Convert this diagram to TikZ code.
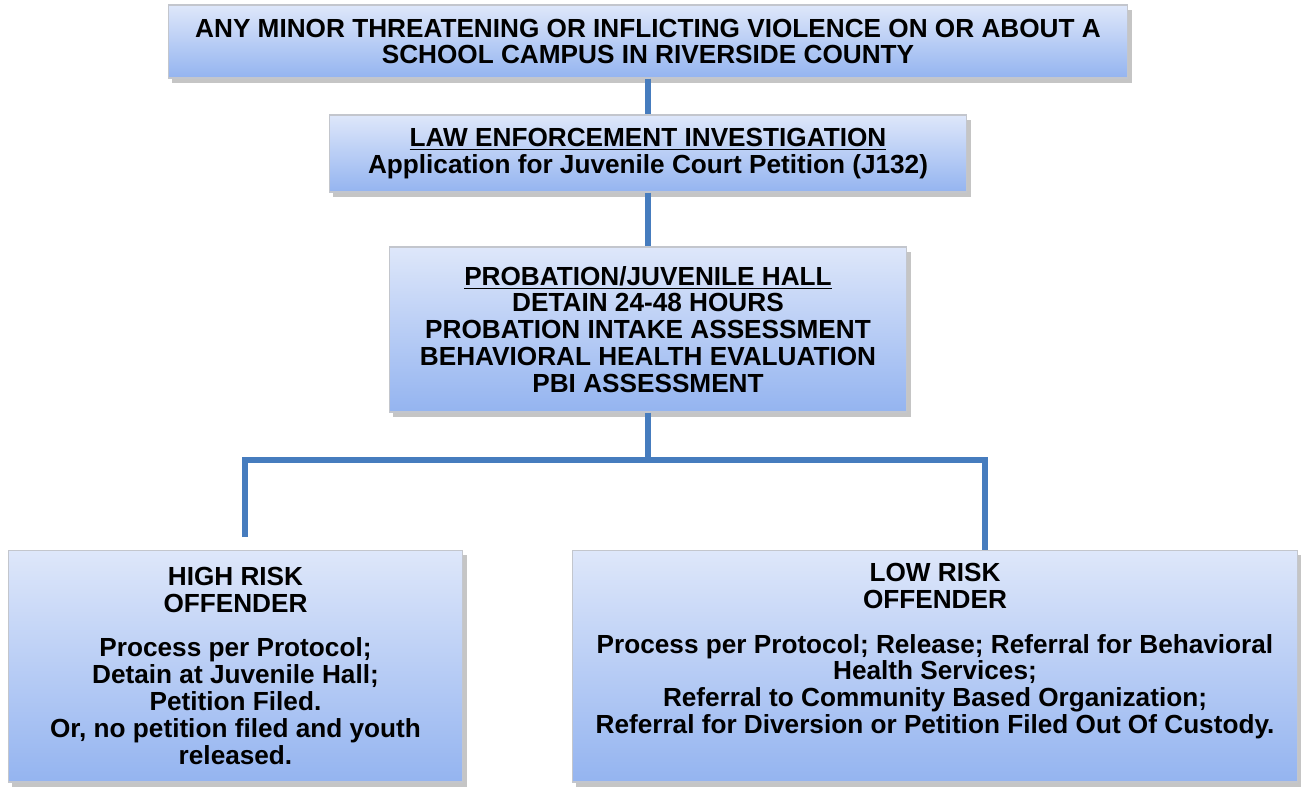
\documentclass[tikz,border=0pt]{standalone}
\usepackage{fontspec}
\setmainfont{Liberation Sans}
\usepackage{tikz}
\usetikzlibrary{shadows}
\definecolor{linkblue}{RGB}{70,124,190}
\definecolor{boxtop}{RGB}{222,231,250}
\definecolor{boxbot}{RGB}{148,180,240}
\definecolor{boxline}{RGB}{195,198,205}

\begin{document}
\begin{tikzpicture}[x=0.02cm,y=-0.02cm]
\tikzset{box/.style = {shape=rectangle,draw=boxline,line width=0.6pt,top color=boxtop,bottom color=boxbot,
  drop shadow={shadow xshift=2.5pt,shadow yshift=-3pt,fill=black!45},align=center,inner sep=0pt,
  font=\bfseries\fontsize{14.9}{15.3}\selectfont}}
\tikzset{link/.style = {-,draw=linkblue,line width=2.9pt}}
\useasboundingbox (0,0) rectangle (1301,787);
% boxes
\node[box,minimum width=19.2cm,minimum height=1.46cm] (top) at (648,41.5)
  {ANY MINOR THREATENING OR INFLICTING VIOLENCE ON OR ABOUT A\\SCHOOL CAMPUS IN RIVERSIDE COUNTY};
\node[box,minimum width=12.76cm,minimum height=1.54cm] (law) at (648,153.5)
  {\underline{LAW ENFORCEMENT INVESTIGATION}\\Application for Juvenile Court Petition (J132)};
\node[box,minimum width=10.36cm,minimum height=3.3cm] (prob) at (648,329.5)
  {\underline{PROBATION/JUVENILE HALL}\\DETAIN 24-48 HOURS\\PROBATION INTAKE ASSESSMENT\\
   BEHAVIORAL HEALTH EVALUATION\\PBI ASSESSMENT};
\node[box,minimum width=9.1cm,minimum height=4.64cm] (high) at (235.5,666)
  {HIGH RISK\\OFFENDER\\[10pt]Process per Protocol;\\Detain at Juvenile Hall;\\Petition Filed.\\
   Or, no petition filed and youth\\released.};
\node[box,minimum width=14.52cm,minimum height=4.64cm] (low) at (935,666)
  {LOW RISK\\OFFENDER\\[10pt]Process per Protocol; Release; Referral for Behavioral\\Health Services;\\
   Referral to Community Based Organization;\\Referral for Diversion or Petition Filed Out Of Custody.\\ \strut};
% links
\coordinate (split) at (648,460);
\coordinate (hiend) at (245,537);
\coordinate (loend) at (985,550);
\draw[link] (top.south) -- (law.north);
\draw[link] (law.south) -- (prob.north);
\draw[link] (prob.south) -- (split);
\draw[link] (hiend) |- (split) -| (loend);
\end{tikzpicture}
\end{document}
